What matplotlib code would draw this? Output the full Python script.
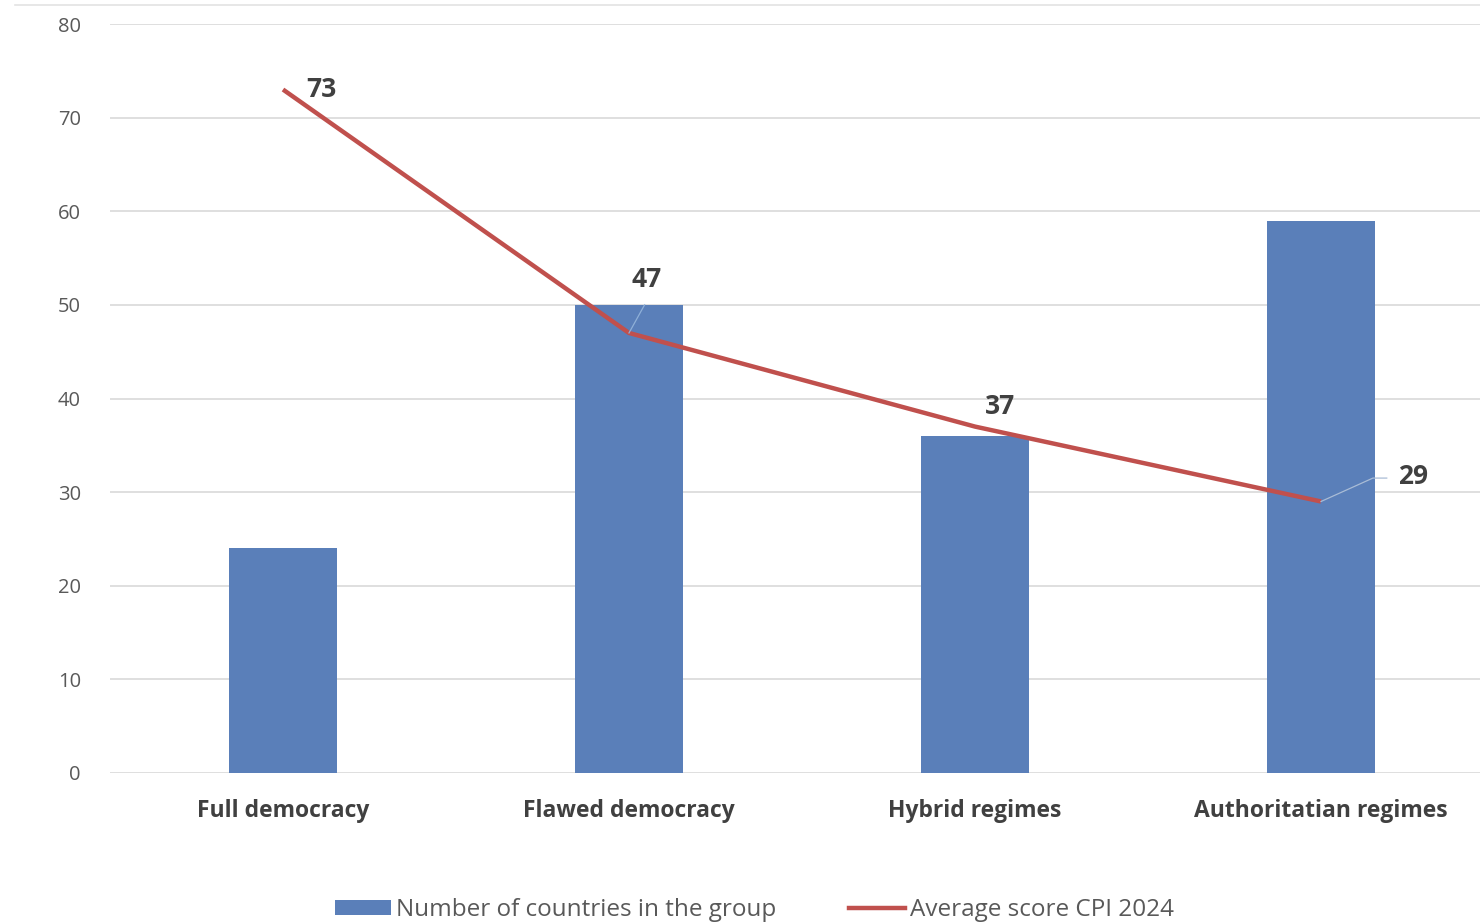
import matplotlib
matplotlib.use("Agg")
import matplotlib.pyplot as plt
from matplotlib.lines import Line2D
from matplotlib.patches import Patch

categories = ["Full democracy", "Flawed democracy", "Hybrid regimes", "Authoritatian regimes"]
countries = [24, 50, 36, 59]
avg_score = [73, 47, 37, 29]
yticks = [0, 10, 20, 30, 40, 50, 60, 70, 80]

plt.rcParams['font.family'] = ['Open Sans', 'DejaVu Sans']

fig = plt.figure(figsize=(14.8, 9.24), dpi=100)
ax = fig.add_axes([110/1480, (924-773)/924, (1494-110)/1480, (773-24)/924])

x = list(range(len(categories)))
bar_color = "#5a7fb9"
line_color = "#c0504d"

ax.bar(x, countries, width=0.312, color=bar_color, zorder=2)
ax.plot(x, avg_score, color=line_color, lw=3.2, zorder=3, solid_capstyle='butt')

ax.set_xlim(-0.5, 3.5)
ax.set_ylim(0, 80)
ax.set_yticks(yticks)
ax.set_yticklabels([str(t) for t in yticks], color="#595959", fontsize=14.5)
ax.set_xticks(x)
ax.set_xticklabels(categories, fontsize=16.5, fontweight='bold', color="#404040")
ax.tick_params(axis='both', length=0)
ax.tick_params(axis='y', pad=21)
ax.tick_params(axis='x', pad=19)
ax.grid(axis='y', color="#d9d9d9", lw=1.2, zorder=0)
for s in ax.spines.values():
    s.set_visible(False)

# faint line at the very top of the image
fig.add_artist(Line2D([0.01, 1.0], [1 - 5/924, 1 - 5/924], transform=fig.transFigure,
                      color="#e3e3e3", lw=1.2))

# data labels
offsets = [(0.11, 0.0), (0.05, 5.7), (0.072, 2.1), (0.266, 2.7)]
leaders = [False, True, False, True]
for xi, yi, (dx, dy), ld in zip(x, avg_score, offsets, leaders):
    ax.text(xi + dx, yi + dy, str(yi), ha='center', va='center', fontsize=19,
            fontweight='bold', color="#404040", zorder=5)
    if ld:
        if xi == 1:
            ax.plot([xi, xi + 0.045], [yi, yi + 3.0], color="#8fb0d8", lw=0.9, zorder=4)
        else:
            ax.plot([xi, xi + 0.15, xi + 0.19], [yi, yi + 2.5, yi + 2.5],
                    color="#a9bcd6", lw=0.9, zorder=4)

handles = [Patch(facecolor=bar_color, edgecolor='none'),
           Line2D([0], [0], color=line_color, lw=3.2)]
fig.legend(handles, ["Number of countries in the group", "Average score CPI 2024"],
           loc='center', bbox_to_anchor=(0.51, 0.015), ncol=2, frameon=False,
           fontsize=17.5, labelcolor="#595959", handlelength=2.3, handletextpad=0.2,
           columnspacing=3.0, handleheight=0.6)

fig.savefig("out.png", dpi=100, facecolor='white')
